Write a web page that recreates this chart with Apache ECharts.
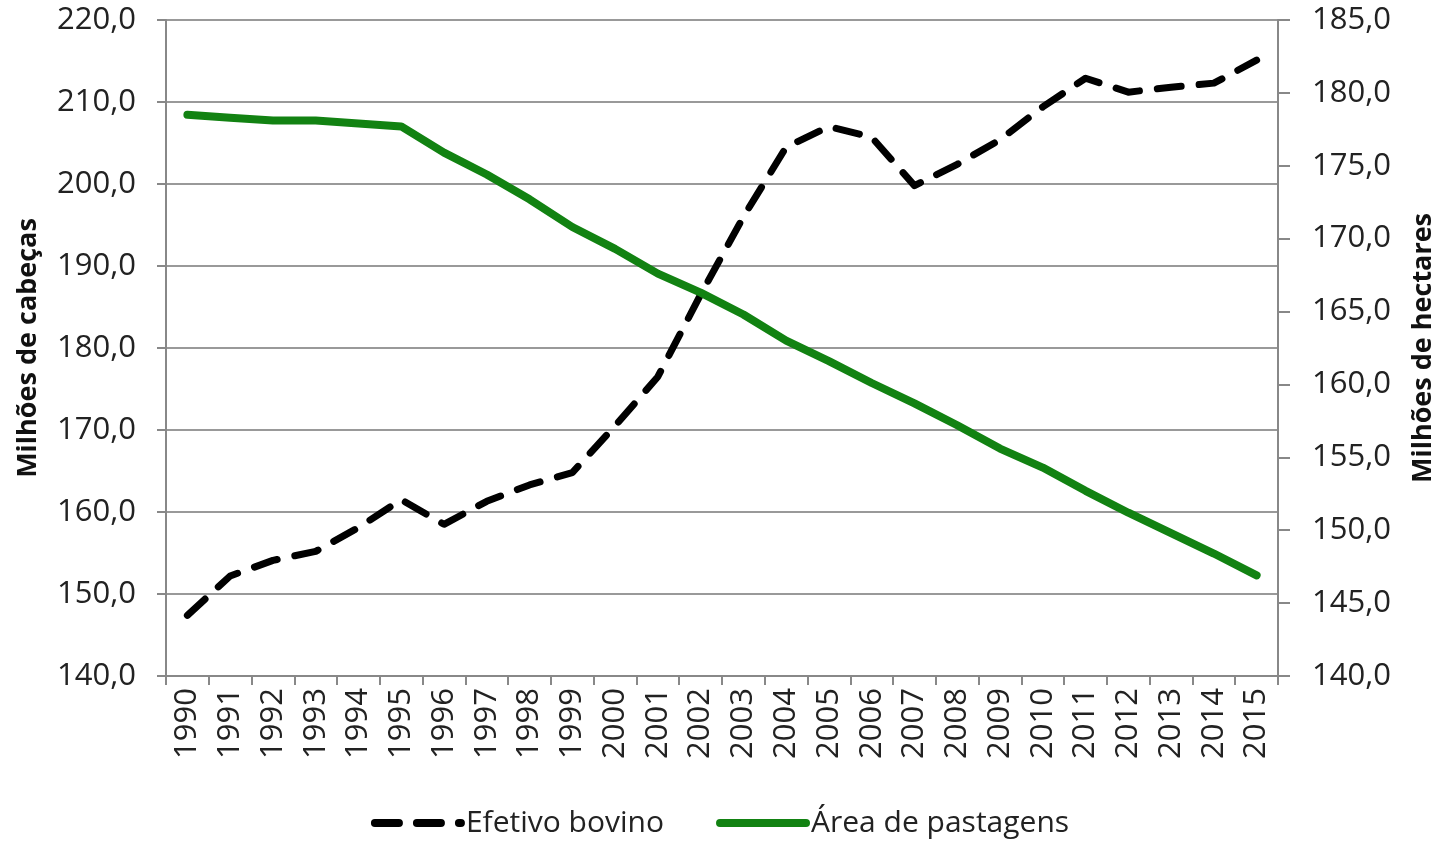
<!DOCTYPE html>
<html>
<head>
<meta charset="utf-8">
<script src="https://cdn.jsdelivr.net/npm/echarts@6/dist/echarts.min.js"></script>
<style>
html,body{margin:0;padding:0;background:#fff;}
#chart{width:1440px;height:845px;}
</style>
</head>
<body>
<div id="chart"></div>
<script>
const years = ['1990','1991','1992','1993','1994','1995','1996','1997','1998','1999','2000','2001','2002','2003','2004','2005','2006','2007','2008','2009','2010','2011','2012','2013','2014','2015'];
const efetivoBovino = [147.4,152.2,154.1,155.2,158.1,161.5,158.5,161.3,163.3,164.8,170.5,176.5,186.5,196.0,204.5,207.0,205.7,199.8,202.4,205.4,209.4,212.9,211.2,211.8,212.3,215.1];
const areaPastagens = [178.5,178.3,178.1,178.1,177.9,177.7,175.9,174.4,172.7,170.8,169.3,167.6,166.3,164.8,163.0,161.6,160.1,158.7,157.2,155.6,154.3,152.7,151.2,149.8,148.4,146.9];
const leftTicks = {min:140, max:220, interval:10};
const rightTicks = {min:140, max:185, interval:5};

const font = '"Open Sans", "Liberation Sans", sans-serif';
const fmt = v => v.toFixed(1).replace('.', ',');
const chart = echarts.init(document.getElementById('chart'));
chart.setOption({
  animation:false,
  backgroundColor:'#fff',
  textStyle:{fontFamily:font},
  grid:{left:166, right:162, top:20, bottom:169, containLabel:false, outerBoundsMode:'none'},
  legend:{
    bottom:2, left:'center', itemGap:52, itemWidth:86, itemHeight:10,
    lineStyle:{width:8},
    itemStyle:{opacity:0},
    textStyle:{fontSize:30, color:'#222', fontFamily:font},
    data:['Efetivo bovino','Área de pastagens']
  },
  xAxis:{
    type:'category', data:years, boundaryGap:true,
    axisLine:{lineStyle:{color:'#888', width:2}},
    axisTick:{show:true, length:9, interval:0, lineStyle:{color:'#888', width:2}},
    axisLabel:{rotate:90, interval:0, fontSize:31, color:'#222', margin:12, fontFamily:font}
  },
  yAxis:[{
    type:'value', min:leftTicks.min, max:leftTicks.max, interval:leftTicks.interval,
    name:'Milhões de cabeças', nameLocation:'middle', nameRotate:90, nameGap:124,
    nameTextStyle:{fontSize:27, fontWeight:'bold', color:'#111', fontFamily:font},
    axisLine:{show:true, lineStyle:{color:'#888', width:2}},
    axisTick:{show:true, length:9, lineStyle:{color:'#888', width:2}},
    axisLabel:{fontSize:31, color:'#222', margin:30, formatter:fmt, fontFamily:font},
    splitLine:{show:true, lineStyle:{color:'#999', width:2}}
  },{
    type:'value', position:'right', min:rightTicks.min, max:rightTicks.max, interval:rightTicks.interval,
    name:'Milhões de hectares', nameLocation:'middle', nameRotate:90, nameGap:132,
    nameTextStyle:{fontSize:27, fontWeight:'bold', color:'#111', fontFamily:font},
    axisLine:{show:true, lineStyle:{color:'#888', width:2}},
    axisTick:{show:true, length:12, lineStyle:{color:'#888', width:2}},
    axisLabel:{fontSize:31, color:'#222', margin:34, formatter:fmt, fontFamily:font},
    splitLine:{show:false}
  }],
  series:[{
    name:'Efetivo bovino', type:'line', yAxisIndex:0, data:efetivoBovino,
    symbol:'none', itemStyle:{color:'#000'},
    lineStyle:{color:'#000', width:7, type:[24,18], cap:'round', join:'round'}
  },{
    name:'Área de pastagens', type:'line', yAxisIndex:1, data:areaPastagens,
    symbol:'none', itemStyle:{color:'#128212'},
    lineStyle:{color:'#128212', width:8, cap:'round', join:'round'}
  }]
});
</script>
</body>
</html>
